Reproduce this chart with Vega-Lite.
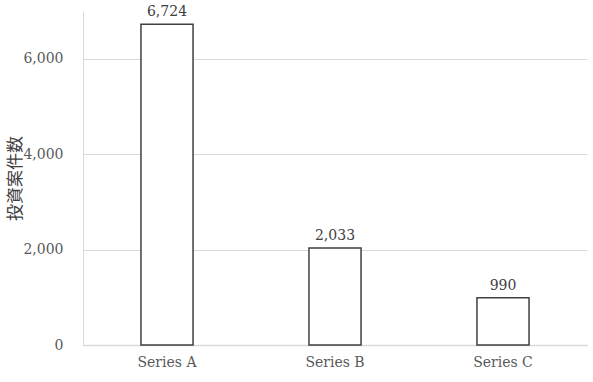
{
  "$schema": "https://vega.github.io/schema/vega-lite/v6.json",
  "autosize": "none",
  "width": 504,
  "height": 334,
  "padding": {"left": 83, "top": 11, "right": 6, "bottom": 37},
  "background": "white",
  "data": {"values": [
    {"series": "Series A", "count": 6724},
    {"series": "Series B", "count": 2033},
    {"series": "Series C", "count": 990}
  ]},
  "config": {"view": {"stroke": null}},
  "encoding": {
    "x": {"field": "series", "type": "nominal", "sort": null,
      "scale": {"paddingInner": 0.69, "paddingOuter": 0.345},
      "axis": {"title": null, "labelAngle": 0, "ticks": false, "domainColor": "#d9d9d9", "domainWidth": 1.5,
        "labelFont": "DejaVu Serif", "labelFontSize": 14, "labelColor": "#595959", "labelPadding": 10}},
    "y": {"field": "count", "type": "quantitative",
      "scale": {"domain": [0, 7000]},
      "axis": {"title": "投資案件数", "values": [0, 2000, 4000, 6000], "format": ",.0f", "ticks": false,
        "domain": true, "domainColor": "#d9d9d9", "gridColor": "#d9d9d9", "gridWidth": 1,
        "labelFont": "DejaVu Serif", "labelFontSize": 14, "labelColor": "#595959", "labelPadding": 20,
        "titleFont": "Noto Sans CJK JP", "titleFontSize": 17, "titleFontWeight": "normal", "titleColor": "#404040",
        "titleX": -68, "titleY": 167, "titleAngle": -90, "titleBaseline": "middle", "titleAlign": "center"}}
  },
  "layer": [
    {"mark": {"type": "bar", "fill": "white", "stroke": "#404040", "strokeWidth": 1.5}},
    {"mark": {"type": "text", "baseline": "bottom", "dy": -5, "font": "DejaVu Serif", "fontSize": 14, "color": "#404040"},
      "encoding": {"text": {"field": "count", "type": "quantitative", "format": ",.0f"}}}
  ]
}
